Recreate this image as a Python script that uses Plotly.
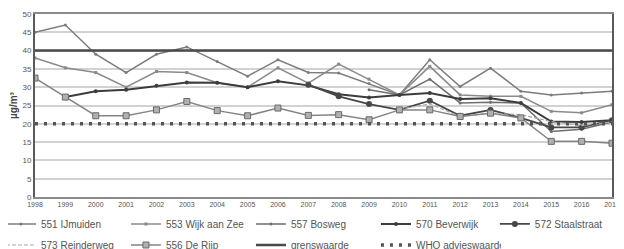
import plotly.graph_objects as go

years = list(range(1998, 2018))

s551 = [45, 47, 39, 34, 39, 41, 37, 33, 37.5, 34, 33.9, 31, 27.9, 37.5, 30.2, 35.2, 28.9, 27.9, 28.4, 28.9]
s553 = [38, 35.3, 34, 30, 34.3, 34, 31.2, 30, 35.3, 31.1, 36.3, 32.2, 27.9, 35.7, 27.9, 27.5, 27.5, 23.4, 23, 25.2]
s557 = [None]*11 + [29.3, 27.9, 32.2, 25.7, 25.9, 25.7, 17.9, 18.5, 20.5]
s570 = [None, 27.3, 28.9, 29.3, 30.4, 31.3, 31.2, 30, 31.6, 30.5, 28.1, 27.2, 27.9, 28.4, 26.8, 27, 25.7, 20.6, 20.5, 21]
s572 = [None]*9 + [30.7, 27.5, 25.4, 23.8, 26.3, 22.2, 23.8, 21.6, 19, 19, 21]
s573 = [None]*12 + [24, 25.4, 22, 22.9, 22.5, 20.6, 19.5, 20.5]
s556 = [32.5, 27.3, 22.2, 22.2, 23.8, 26.1, 23.6, 22.2, 24.3, 22.3, 22.5, 21.1, 23.8, 23.8, 22, 22.9, 21.6, 15.2, 15.2, 14.7]
grens_value = 40
who_value = 20
grens = [grens_value] * len(years)
who = [who_value] * len(years)

y_ticks = list(range(0, 55, 5))

fig = go.Figure()

def add(name, ys, color, width, symbol, msize, legend, dash="solid", mcolor=None, mline=None):
    fig.add_trace(go.Scatter(
        x=years, y=ys, name=name, mode="lines+markers" if symbol else "lines",
        line=dict(color=color, width=width, dash=dash),
        marker=dict(symbol=symbol or "circle", size=msize, color=mcolor or color,
                    line=dict(color=mline or color, width=1 if mline else 0)),
        legend=legend, connectgaps=False))

add("551 IJmuiden", s551, "#7c7c7c", 1.5, "circle", 3, "legend")
add("553 Wijk aan Zee", s553, "#8a8a8a", 1.5, "square", 3, "legend")
add("557 Bosweg", s557, "#6e6e6e", 1.5, "circle", 3, "legend")
add("570 Beverwijk", s570, "#3c3c3c", 2, "circle", 4, "legend")
add("572 Staalstraat", s572, "#474747", 1.8, "circle", 6, "legend3")
add("573 Reinderweg", s573, "#a8a8a8", 1.2, None, 0, "legend2", dash="4px,2px")
add("556 De Rijp", s556, "#858585", 1.5, "square", 6, "legend2", mcolor="#b0b0b0", mline="#6a6a6a")
fig.add_trace(go.Scatter(x=years, y=grens, name="grenswaarde", mode="lines",
                         line=dict(color="#4a4a4a", width=2.5), legend="legend2"))
fig.add_trace(go.Scatter(x=years, y=who, name="WHO advieswaarde", mode="lines",
                         line=dict(color="#555555", width=3.5, dash="3px,6px"), legend="legend2"))

legend_common = dict(orientation="h", xanchor="left", yanchor="top",
                     font=dict(family="Liberation Sans, Arial, sans-serif", size=10, color="#555"),
                     bgcolor="rgba(0,0,0,0)", entrywidth=80, entrywidthmode="pixels",
                     itemwidth=30, tracegroupgap=0)

fig.update_layout(
    width=616, height=241,
    margin=dict(l=27, r=12, t=6, b=52, autoexpand=False),
    paper_bgcolor="white", plot_bgcolor="white",
    showlegend=True,
    legend=dict(x=-0.059, y=-0.068, **legend_common),
    legend3=dict(x=0.797, y=-0.068, **legend_common),
    legend2=dict(x=-0.059, y=-0.183, **legend_common),
    xaxis=dict(range=[1998, 2017], tickmode="array", tickvals=years,
               ticktext=[str(y) for y in years], showgrid=False,
               showline=True, linecolor="#8a8a8a", linewidth=1.5, mirror=True,
               ticks="", zeroline=False, ticklabeloverflow="allow",
               tickfont=dict(family="Liberation Sans, Arial, sans-serif", size=7, color="#555")),
    yaxis=dict(range=[0, 50], tickmode="array", tickvals=y_ticks,
               showgrid=True, gridcolor="#d2d2d2", gridwidth=1.5,
               showline=True, linecolor="#5a5a5a", linewidth=2, mirror=True,
               ticks="", zeroline=False,
               tickfont=dict(family="Liberation Sans, Arial, sans-serif", size=8, color="#555"),
               title=dict(text="<b>µg/m³</b>", standoff=4,
                          font=dict(family="Liberation Sans, Arial, sans-serif", size=10, color="#444"))),
)

fig.write_html("out.html")
